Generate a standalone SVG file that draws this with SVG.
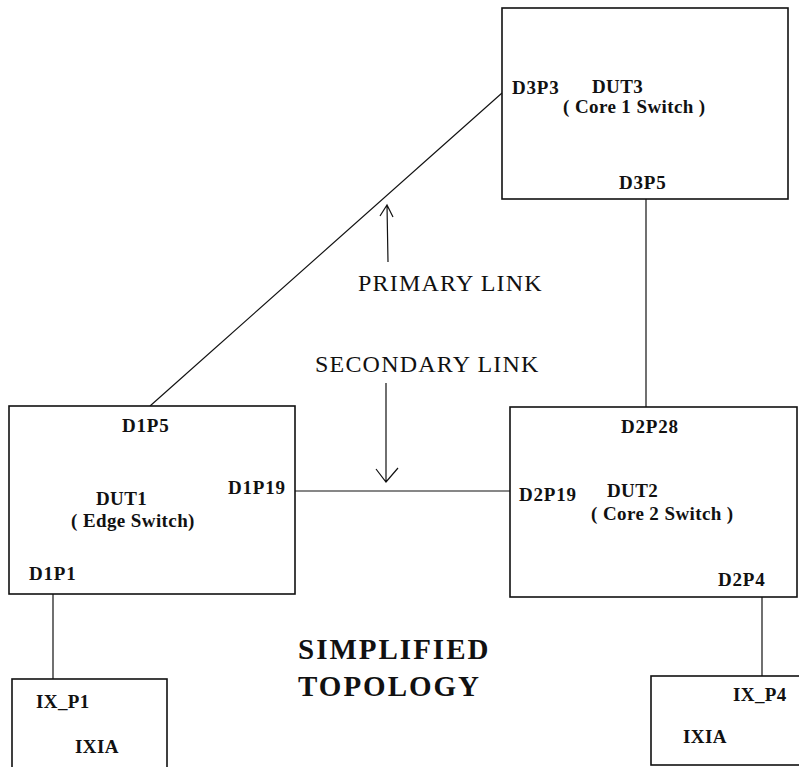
<svg xmlns="http://www.w3.org/2000/svg" width="799" height="767" viewBox="0 0 799 767">
  <defs>
    <style>
      .box { fill: #fff; stroke: #111; stroke-width: 1.6; }
      .wire { stroke: #111; stroke-width: 1.2; fill: none; }
      .port { font-family: "Liberation Serif", "Times New Roman", serif; font-weight: bold; font-size: 19px; fill: #111; letter-spacing: 0.8px; }
      .name { font-family: "Liberation Serif", "Times New Roman", serif; font-weight: bold; font-size: 19px; fill: #111; letter-spacing: 0.4px; }
      .note { font-family: "Liberation Serif", "Times New Roman", serif; font-size: 24px; fill: #111; letter-spacing: 1.2px; }
      .title { font-family: "Liberation Serif", "Times New Roman", serif; font-weight: bold; font-size: 29px; fill: #111; letter-spacing: 2px; }
    </style>
  </defs>
  <rect width="799" height="767" fill="#fff"/>

  <!-- links between devices -->
  <g id="connectors">
    <line class="wire" x1="150" y1="406" x2="502" y2="93"/>
    <line class="wire" x1="646" y1="199" x2="646" y2="407"/>
    <line class="wire" x1="295" y1="491" x2="510" y2="491"/>
    <line class="wire" x1="53" y1="594" x2="53" y2="679"/>
    <line class="wire" x1="762" y1="597" x2="762" y2="676"/>
  </g>

  <g id="dut3">
    <rect class="box" x="502" y="8" width="286" height="191"/>
    <text class="port" x="512" y="94">D3P3</text>
    <text class="name" x="592" y="93">DUT3</text>
    <text class="name" x="563" y="113">( Core 1 Switch )</text>
    <text class="port" x="619" y="189">D3P5</text>
  </g>

  <g id="dut1">
    <rect class="box" x="9" y="406" width="286" height="188"/>
    <text class="port" x="122" y="432">D1P5</text>
    <text class="name" x="96" y="505">DUT1</text>
    <text class="name" x="71" y="527">( Edge Switch)</text>
    <text class="port" x="228" y="494">D1P19</text>
    <text class="port" x="29" y="580">D1P1</text>
  </g>

  <g id="dut2">
    <rect class="box" x="510" y="407" width="287" height="190"/>
    <text class="port" x="621" y="433">D2P28</text>
    <text class="port" x="519" y="501">D2P19</text>
    <text class="name" x="607" y="497">DUT2</text>
    <text class="name" x="591" y="520">( Core 2 Switch )</text>
    <text class="port" x="718" y="586">D2P4</text>
  </g>

  <g id="ixia1">
    <rect class="box" x="12" y="679" width="155" height="100"/>
    <text class="name" x="36" y="708">IX_P1</text>
    <text class="name" x="75" y="753">IXIA</text>
  </g>

  <g id="ixia4">
    <rect class="box" x="651" y="676" width="170" height="89"/>
    <text class="name" x="733" y="701">IX_P4</text>
    <text class="name" x="683" y="743">IXIA</text>
  </g>

  <!-- link annotations -->
  <g id="primary-label">
    <path class="wire" d="M388 262 L387 205 M380 216 L387 205 L393 217"/>
    <text class="note" x="358" y="291">PRIMARY LINK</text>
  </g>
  <g id="secondary-label">
    <path class="wire" d="M386 383 L386 482 M376 469 L386 482 L398 468"/>
    <text class="note" x="315" y="372">SECONDARY LINK</text>
  </g>

  <g id="title">
    <text class="title" x="298" y="659">SIMPLIFIED</text>
    <text class="title" x="298" y="696">TOPOLOGY</text>
  </g>
</svg>
